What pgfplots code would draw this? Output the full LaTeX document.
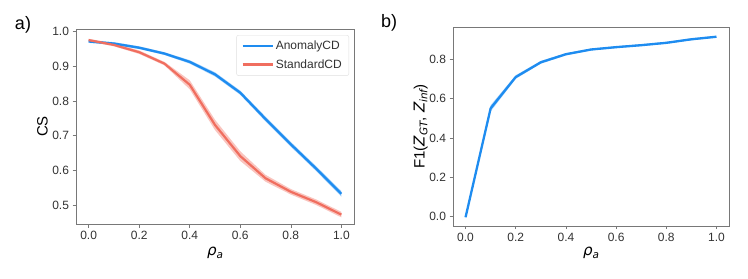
\documentclass[border=0pt]{standalone}
\usepackage{pgfplots}
\pgfplotsset{compat=1.18}
\usepackage{fontspec}
\setmainfont{Liberation Sans}
\newfontfamily\dejavu{DejaVu Sans}
\definecolor{cblue}{RGB}{30,140,240}
\definecolor{cred}{RGB}{240,110,95}
\definecolor{spine}{RGB}{120,120,120}
\definecolor{ticktxt}{RGB}{50,50,50}
\newcommand{\rhoa}{{\dejavu\itshape ρ}\raisebox{-0.35ex}{\dejavu\itshape\fontsize{10.5bp}{12bp}\selectfont a}}
\pgfplotsset{
  myax/.style={
    scale only axis,
    axis line style={spine},
    tick style={spine, line width=0.6bp},
    tick align=outside,
    major tick length=3.5bp,
    xtick pos=bottom, ytick pos=left,
    tick label style={font=\fontsize{12bp}{14bp}\selectfont, text=ticktxt},
    /pgf/number format/assume math mode=true,
    /pgf/number format/fixed, /pgf/number format/fixed zerofill, /pgf/number format/precision=1,
    xmin=-0.05, xmax=1.05,
    xtick={0,0.2,0.4,0.6,0.8,1.0},
    label style={font=\fontsize{15bp}{17bp}\selectfont},
  }
}
\begin{document}
\begin{tikzpicture}[x=1bp,y=1bp]
\useasboundingbox (0,0) rectangle (748,278);
\node[font=\fontsize{18bp}{20bp}\selectfont] at (23,253) {a)};
\node[font=\fontsize{18bp}{20bp}\selectfont] at (389,255.5) {b)};
\begin{axis}[myax, at={(76bp,54bp)}, anchor=south west, width=278bp, height=195bp,
  ymin=0.445, ymax=1.008, ytick={0.5,0.6,0.7,0.8,0.9,1.0},
  xlabel={\rhoa}, ylabel={CS},
  xlabel style={at={(axis description cs:0.5,-0.149)}, anchor=center},
  ylabel style={at={(axis description cs:-0.1205,0.5)}, anchor=center},
  legend style={at={(0.982,0.969)}, anchor=north east, draw=gray!25, rounded corners=2bp,
    font=\fontsize{12bp}{14bp}\selectfont, text=ticktxt, row sep=4bp, inner xsep=5bp, inner ysep=4bp},
  legend cell align=left,
  legend image code/.code={\draw[line width=2.2bp,#1] (0bp,0bp) -- (15bp,0bp) -- (30bp,0bp);},
]
\addplot[fill=cblue, fill opacity=0.4, draw=none, forget plot] coordinates {(0.0,0.976) (0.1,0.970) (0.2,0.958) (0.3,0.941) (0.4,0.918) (0.5,0.883) (0.6,0.830) (0.7,0.755) (0.8,0.682) (0.9,0.612) (1.0,0.540)
 (1.0,0.524) (0.9,0.598) (0.8,0.668) (0.7,0.741) (0.6,0.818) (0.5,0.871) (0.4,0.908) (0.3,0.933) (0.2,0.950) (0.1,0.962) (0.0,0.968)};
\addplot[fill=cred, fill opacity=0.4, draw=none, forget plot] coordinates {(0.0,0.980) (0.1,0.966) (0.2,0.946) (0.3,0.913) (0.4,0.860) (0.5,0.746) (0.6,0.655) (0.7,0.587) (0.8,0.546) (0.9,0.516) (1.0,0.480)
 (1.0,0.464) (0.9,0.500) (0.8,0.530) (0.7,0.567) (0.6,0.627) (0.5,0.716) (0.4,0.834) (0.3,0.903) (0.2,0.936) (0.1,0.958) (0.0,0.972)};
\addplot[color=cblue, line width=2.3bp] coordinates {(0.0,0.972) (0.1,0.966) (0.2,0.954) (0.3,0.937) (0.4,0.913) (0.5,0.877) (0.6,0.824) (0.7,0.748) (0.8,0.675) (0.9,0.605) (1.0,0.532)};
\addplot[color=cred, line width=2.2bp] coordinates {(0.0,0.976) (0.1,0.962) (0.2,0.941) (0.3,0.908) (0.4,0.847) (0.5,0.731) (0.6,0.641) (0.7,0.577) (0.8,0.538) (0.9,0.508) (1.0,0.472)};
\legend{AnomalyCD, StandardCD}
\end{axis}
\begin{axis}[myax, at={(453bp,52.3bp)}, anchor=south west, width=276bp, height=198.4bp,
  ymin=-0.046, ymax=0.963, ytick={0,0.2,0.4,0.6,0.8},
  xlabel={\rhoa},
  ylabel={F1({\dejavu\itshape Z}\raisebox{-0.35ex}{\dejavu\itshape\fontsize{10.5bp}{12bp}\selectfont GT}, {\dejavu\itshape Z}\raisebox{-0.35ex}{\dejavu\itshape\fontsize{10.5bp}{12bp}\selectfont inf})},
  xlabel style={at={(axis description cs:0.5,-0.138)}, anchor=center},
  ylabel style={at={(axis description cs:-0.117,0.5)}, anchor=center},
]
\addplot[fill=cblue, fill opacity=0.4, draw=none] coordinates {(0.0,0.003) (0.1,0.567) (0.2,0.719) (0.3,0.792) (0.4,0.832) (0.5,0.855) (0.6,0.867) (0.7,0.877) (0.8,0.889) (0.9,0.907) (1.0,0.920)
 (1.0,0.910) (0.9,0.897) (0.8,0.879) (0.7,0.867) (0.6,0.857) (0.5,0.845) (0.4,0.820) (0.3,0.778) (0.2,0.701) (0.1,0.535) (0.0,-0.009)};
\addplot[cblue, line width=2.3bp] coordinates {(0.0,-0.003) (0.1,0.551) (0.2,0.710) (0.3,0.785) (0.4,0.826) (0.5,0.850) (0.6,0.862) (0.7,0.872) (0.8,0.884) (0.9,0.902) (1.0,0.915)};
\end{axis}
\end{tikzpicture}
\end{document}
